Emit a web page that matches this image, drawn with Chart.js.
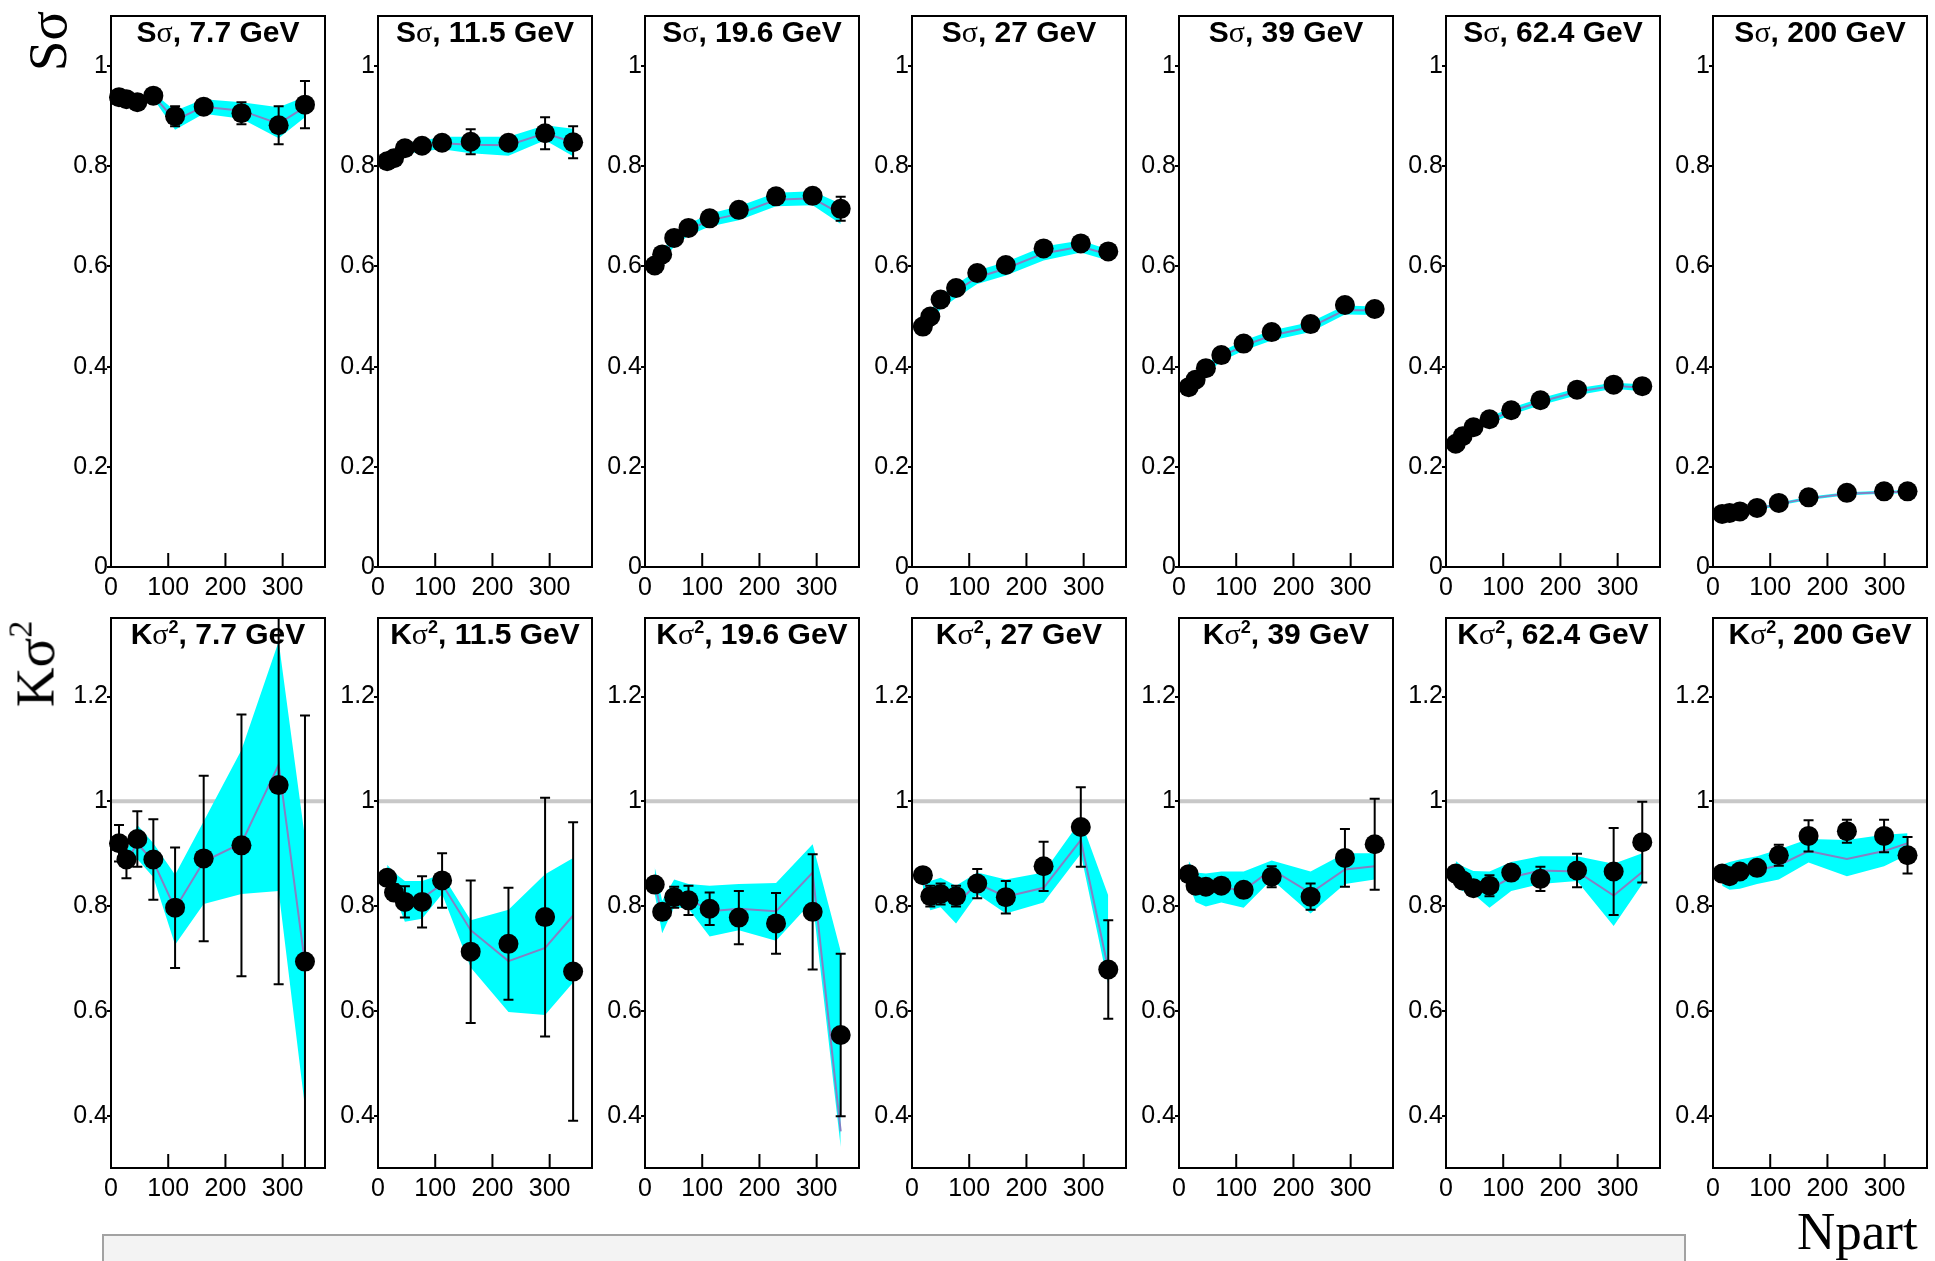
<!DOCTYPE html>
<html>
<head>
<meta charset="utf-8">
<script src="https://cdn.jsdelivr.net/npm/chart.js@4.4.1/dist/chart.umd.min.js"></script>
<style>
  html, body { margin: 0; padding: 0; background: #fff; }
  #page { position: relative; width: 1935px; height: 1261px; overflow: hidden; background: #fff; }
  .panel { position: absolute; }
  .ptitle { position: absolute; width: 214px; text-align: center; white-space: nowrap;
            font: bold 30px 'Liberation Sans', Arial, sans-serif; line-height: 30px; color: #000; }
  .ptitle .g { font-family: 'Liberation Serif', 'DejaVu Serif', serif; font-weight: normal; }
  .ptitle .sup { font-size: 18px; position: relative; top: -11px; }
  .ytitle { position: absolute; white-space: nowrap; line-height: 1; color: #000;
            font-family: 'Liberation Serif', 'DejaVu Serif', serif; font-size: 55px;
            transform: translate(-50%, -50%) rotate(-90deg); }
  .ytitle sup { font-size: 34px; vertical-align: 0; position: relative; top: -22px; }
  #npart { position: absolute; left: 1797px; top: 1205px; line-height: 1;
           font-family: 'Liberation Serif', 'DejaVu Serif', serif; font-size: 53px; color: #000; }
  #caption { position: absolute; left: 102px; top: 1234px; width: 1584px; height: 40px;
             background: #f3f3f3; border: 2px solid #a2a2a2; box-sizing: border-box; }
</style>
</head>
<body>
<div id="page"></div>
<script>
// collision energies (GeV), one column of panels each
const energies = ['7.7', '11.5', '19.6', '27', '39', '62.4', '200'];

// Npart of the nine centrality bins, per energy
const npart = [
  [14, 27, 46, 74, 112, 162, 228, 293, 339],
  [16, 28, 47, 77, 112, 162, 228, 292, 341],
  [17, 30, 51, 76, 113, 164, 229, 293, 342],
  [19, 32, 50, 77, 114, 164, 230, 295, 343],
  [17, 29, 47, 74, 113, 162, 230, 290, 342],
  [17, 29, 48, 76, 114, 165, 229, 293, 343],
  [16, 29, 47, 77, 115, 167, 234, 299, 340]
];

const xTicks = [0, 100, 200, 300];
const sTicks = [0, 0.2, 0.4, 0.6, 0.8, 1];
const kTicks = [0.4, 0.6, 0.8, 1, 1.2];

// S*sigma : data points and stat. errors
const sVal = [
  [0.938, 0.934, 0.928, 0.941, 0.900, 0.919, 0.906, 0.882, 0.923],
  [0.810, 0.816, 0.836, 0.841, 0.847, 0.849, 0.847, 0.866, 0.848],
  [0.602, 0.624, 0.657, 0.677, 0.696, 0.713, 0.740, 0.741, 0.715],
  [0.480, 0.500, 0.534, 0.557, 0.587, 0.603, 0.636, 0.646, 0.630],
  [0.359, 0.374, 0.397, 0.423, 0.446, 0.469, 0.485, 0.523, 0.515],
  [0.246, 0.261, 0.279, 0.295, 0.313, 0.333, 0.354, 0.364, 0.361],
  [0.106, 0.108, 0.111, 0.118, 0.128, 0.139, 0.148, 0.151, 0.151]
];
const sErr = [
  [0.005, 0.005, 0.005, 0.006, 0.020, 0.008, 0.022, 0.038, 0.047],
  [0.005, 0.005, 0.005, 0.006, 0.007, 0.025, 0.008, 0.032, 0.032],
  [0.004, 0.004, 0.004, 0.005, 0.005, 0.006, 0.007, 0.008, 0.024],
  [0.004, 0.004, 0.004, 0.004, 0.005, 0.005, 0.006, 0.007, 0.009],
  [0.003, 0.003, 0.003, 0.004, 0.004, 0.004, 0.005, 0.006, 0.007],
  [0.003, 0.003, 0.003, 0.003, 0.003, 0.004, 0.004, 0.005, 0.006],
  [0.002, 0.002, 0.002, 0.002, 0.003, 0.003, 0.003, 0.004, 0.004]
];
// S*sigma : band (low / high edge) and its central line
const sLo = [
  [0.932, 0.928, 0.922, 0.935, 0.873, 0.905, 0.895, 0.856, 0.898],
  [0.795, 0.803, 0.824, 0.830, 0.834, 0.826, 0.821, 0.852, 0.820],
  [0.585, 0.610, 0.640, 0.662, 0.680, 0.692, 0.720, 0.722, 0.685],
  [0.462, 0.485, 0.515, 0.537, 0.565, 0.582, 0.612, 0.628, 0.612],
  [0.347, 0.362, 0.385, 0.411, 0.432, 0.452, 0.469, 0.504, 0.503],
  [0.238, 0.253, 0.270, 0.286, 0.304, 0.323, 0.343, 0.356, 0.351],
  [0.102, 0.104, 0.107, 0.113, 0.123, 0.134, 0.143, 0.146, 0.147]
];
const sHi = [
  [0.944, 0.940, 0.934, 0.947, 0.911, 0.934, 0.928, 0.918, 0.939],
  [0.820, 0.826, 0.846, 0.851, 0.859, 0.859, 0.859, 0.882, 0.875],
  [0.610, 0.632, 0.662, 0.685, 0.705, 0.720, 0.747, 0.750, 0.725],
  [0.486, 0.510, 0.541, 0.564, 0.592, 0.609, 0.640, 0.652, 0.634],
  [0.365, 0.380, 0.403, 0.430, 0.452, 0.472, 0.489, 0.522, 0.520],
  [0.252, 0.267, 0.284, 0.300, 0.318, 0.337, 0.357, 0.368, 0.365],
  [0.108, 0.110, 0.113, 0.119, 0.129, 0.140, 0.149, 0.152, 0.153]
];
const sMid = [
  [0.938, 0.934, 0.928, 0.941, 0.892, 0.919, 0.911, 0.885, 0.918],
  [0.807, 0.815, 0.835, 0.840, 0.846, 0.843, 0.842, 0.866, 0.848],
  [0.598, 0.620, 0.652, 0.673, 0.692, 0.705, 0.733, 0.736, 0.705],
  [0.474, 0.497, 0.528, 0.551, 0.578, 0.596, 0.626, 0.640, 0.624],
  [0.356, 0.371, 0.394, 0.420, 0.442, 0.462, 0.479, 0.513, 0.512],
  [0.245, 0.260, 0.277, 0.293, 0.311, 0.330, 0.350, 0.362, 0.358],
  [0.105, 0.107, 0.110, 0.116, 0.126, 0.137, 0.146, 0.149, 0.150]
];

// K*sigma^2 : data points and stat. errors
const kVal = [
  [0.920, 0.889, 0.928, 0.889, 0.797, 0.891, 0.916, 1.031, 0.694],
  [0.854, 0.826, 0.808, 0.808, 0.849, 0.713, 0.728, 0.779, 0.675],
  [0.841, 0.789, 0.817, 0.811, 0.795, 0.778, 0.767, 0.789, 0.554],
  [0.859, 0.819, 0.823, 0.819, 0.843, 0.817, 0.876, 0.951, 0.679],
  [0.861, 0.839, 0.837, 0.839, 0.831, 0.856, 0.818, 0.892, 0.918],
  [0.862, 0.849, 0.834, 0.839, 0.864, 0.852, 0.868, 0.866, 0.922],
  [0.862, 0.857, 0.866, 0.873, 0.897, 0.934, 0.943, 0.934, 0.897]
];
const kErr = [
  [0.035, 0.036, 0.053, 0.077, 0.115, 0.158, 0.250, 0.380, 0.470],
  [0.010, 0.015, 0.030, 0.049, 0.052, 0.136, 0.107, 0.228, 0.285],
  [0.010, 0.015, 0.020, 0.028, 0.031, 0.051, 0.058, 0.110, 0.155],
  [0.010, 0.020, 0.020, 0.020, 0.028, 0.031, 0.047, 0.076, 0.094],
  [0.008, 0.010, 0.010, 0.012, 0.012, 0.020, 0.025, 0.055, 0.087],
  [0.006, 0.006, 0.010, 0.020, 0.010, 0.023, 0.032, 0.083, 0.077],
  [0.006, 0.006, 0.008, 0.010, 0.020, 0.030, 0.022, 0.031, 0.035]
];
// K*sigma^2 : band (low / high edge) and its central line
const kLo = [
  [0.900, 0.870, 0.890, 0.855, 0.726, 0.804, 0.823, 0.829, 0.416],
  [0.840, 0.823, 0.770, 0.776, 0.823, 0.683, 0.598, 0.592, 0.654],
  [0.823, 0.748, 0.798, 0.795, 0.742, 0.754, 0.734, 0.810, 0.340],
  [0.835, 0.792, 0.798, 0.767, 0.823, 0.786, 0.807, 0.900, 0.650],
  [0.842, 0.808, 0.799, 0.807, 0.797, 0.851, 0.786, 0.842, 0.851],
  [0.836, 0.829, 0.823, 0.797, 0.829, 0.842, 0.848, 0.762, 0.842],
  [0.839, 0.831, 0.833, 0.842, 0.851, 0.883, 0.857, 0.876, 0.898]
];
const kHi = [
  [0.935, 0.905, 0.955, 0.920, 0.860, 0.962, 1.098, 1.305, 0.930],
  [0.879, 0.864, 0.848, 0.848, 0.861, 0.773, 0.793, 0.861, 0.892],
  [0.874, 0.810, 0.851, 0.842, 0.839, 0.842, 0.844, 0.918, 0.714],
  [0.870, 0.848, 0.854, 0.839, 0.864, 0.851, 0.864, 0.964, 0.820],
  [0.886, 0.864, 0.862, 0.866, 0.866, 0.887, 0.866, 0.901, 0.901],
  [0.886, 0.876, 0.867, 0.866, 0.884, 0.895, 0.895, 0.881, 0.901],
  [0.879, 0.884, 0.889, 0.895, 0.908, 0.928, 0.926, 0.936, 0.939]
];
const kMid = [
  [0.915, 0.885, 0.920, 0.885, 0.795, 0.885, 0.920, 1.070, 0.690],
  [0.858, 0.838, 0.815, 0.815, 0.842, 0.754, 0.695, 0.720, 0.782],
  [0.845, 0.780, 0.820, 0.815, 0.790, 0.795, 0.790, 0.864, 0.370],
  [0.852, 0.820, 0.826, 0.803, 0.843, 0.818, 0.835, 0.926, 0.680],
  [0.862, 0.836, 0.830, 0.836, 0.830, 0.870, 0.825, 0.870, 0.876],
  [0.862, 0.852, 0.840, 0.832, 0.855, 0.868, 0.866, 0.820, 0.865],
  [0.860, 0.858, 0.862, 0.868, 0.878, 0.905, 0.890, 0.905, 0.920]
];

const page = document.getElementById('page');
const FONT = "'Liberation Sans', Arial, sans-serif";
const plotLeft0 = 111, plotPitch = 267, plotW = 214;
const plotTop = [7, 609], plotH = [560, 559];
const padL = 58, padR = 6, padT = 5, padB = 40;

const fmt = function (v) {
    return String(parseFloat(v.toFixed(1)));
};

const pts = function (xs, ys) {
    return xs.map((x, i) => ({ x: x, y: ys[i] }));
};

// error bars, unity line, frame and inner x ticks
const overlay = function (xs, vals, errs, unity) {
    return {
        id: 'overlay',
        beforeDatasetsDraw(chart) {
            if (unity === null) {
                return;
            }
            const { ctx, chartArea: a, scales: { y } } = chart;
            const py = y.getPixelForValue(unity);
            ctx.save();
            ctx.strokeStyle = '#c8c8c8';
            ctx.lineWidth = 4;
            ctx.beginPath();
            ctx.moveTo(a.left, py);
            ctx.lineTo(a.right, py);
            ctx.stroke();
            ctx.restore();
        },
        afterDatasetsDraw(chart) {
            const { ctx, chartArea: a, scales: { x, y } } = chart;
            ctx.save();
            ctx.beginPath();
            ctx.rect(a.left, a.top, a.right - a.left, a.bottom - a.top);
            ctx.clip();
            ctx.strokeStyle = '#000';
            ctx.lineWidth = 2;
            for (let i = 0; i < xs.length; i++) {
                const px = x.getPixelForValue(xs[i]);
                const top = y.getPixelForValue(vals[i] + errs[i]);
                const bot = y.getPixelForValue(vals[i] - errs[i]);
                ctx.beginPath();
                ctx.moveTo(px, top);
                ctx.lineTo(px, bot);
                ctx.moveTo(px - 5, top);
                ctx.lineTo(px + 5, top);
                ctx.moveTo(px - 5, bot);
                ctx.lineTo(px + 5, bot);
                ctx.stroke();
            }
            ctx.restore();
        },
        afterDraw(chart) {
            const { ctx, chartArea: a, scales: { x } } = chart;
            ctx.save();
            ctx.strokeStyle = '#000';
            ctx.lineWidth = 2;
            ctx.strokeRect(a.left, a.top, a.right - a.left, a.bottom - a.top);
            ctx.beginPath();
            xTicks.forEach(function (t) {
                if (t === 0) {
                    return;
                }
                const px = x.getPixelForValue(t);
                ctx.moveTo(px, a.bottom);
                ctx.lineTo(px, a.bottom - 14);
            });
            ctx.stroke();
            ctx.restore();
        }
    };
};

const makePanel = function (row, col) {
    const isS = row === 0;
    const xs = npart[col];
    const vals = isS ? sVal[col] : kVal[col];
    const errs = isS ? sErr[col] : kErr[col];
    const lo = isS ? sLo[col] : kLo[col];
    const hi = isS ? sHi[col] : kHi[col];
    const mid = isS ? sMid[col] : kMid[col];
    const yTicks = isS ? sTicks : kTicks;

    const left = plotLeft0 + col * plotPitch;
    const w = plotW + padL + padR;
    const h = plotH[row] + padT + padB;

    const box = document.createElement('div');
    box.className = 'panel';
    box.style.left = (left - padL) + 'px';
    box.style.top = (plotTop[row] - padT) + 'px';
    box.style.width = w + 'px';
    box.style.height = h + 'px';
    const canvas = document.createElement('canvas');
    canvas.width = w;
    canvas.height = h;
    canvas.style.width = w + 'px';
    canvas.style.height = h + 'px';
    box.appendChild(canvas);
    page.appendChild(box);

    // lower "order" is painted on top: points > centre line > band
    new Chart(canvas, {
        type: 'line',
        data: {
            datasets: [
                { data: pts(xs, hi), order: 3, fill: '+1', backgroundColor: '#00ffff', borderWidth: 0, pointRadius: 0 },
                { data: pts(xs, lo), order: 4, fill: false, borderWidth: 0, pointRadius: 0 },
                { data: pts(xs, mid), order: 2, fill: false, borderColor: '#8480c4', borderWidth: 2, pointRadius: 0 },
                {
                    data: pts(xs, vals), order: 1, showLine: false, clip: false,
                    pointRadius: 10, pointBackgroundColor: '#000', pointBorderWidth: 0
                }
            ]
        },
        options: {
            responsive: false,
            animation: false,
            devicePixelRatio: 1,
            events: [],
            layout: { padding: { top: padT, right: padR, left: 0, bottom: 0 }, autoPadding: false },
            plugins: { legend: { display: false }, tooltip: { enabled: false } },
            scales: {
                x: {
                    type: 'linear',
                    min: 0,
                    max: 374,
                    afterFit: function (s) { s.height = padB; },
                    afterBuildTicks: function (s) { s.ticks = xTicks.map(v => ({ value: v })); },
                    grid: { display: false, drawTicks: false },
                    border: { display: false },
                    ticks: { color: '#000', font: { family: FONT, size: 25 }, padding: 6, maxRotation: 0, autoSkip: false }
                },
                y: {
                    type: 'linear',
                    min: isS ? 0 : 0.3,
                    max: isS ? 1.1 : 1.35,
                    afterFit: function (s) { s.width = padL; },
                    afterBuildTicks: function (s) { s.ticks = yTicks.map(v => ({ value: v })); },
                    grid: { drawOnChartArea: false, drawTicks: true, tickLength: 4, color: '#000', lineWidth: 2 },
                    border: { display: false },
                    ticks: { color: '#000', font: { family: FONT, size: 25 }, padding: -1, autoSkip: false, callback: fmt }
                }
            }
        },
        plugins: [overlay(xs, vals, errs, isS ? null : 1)]
    });

    const t = document.createElement('div');
    t.className = 'ptitle';
    t.style.left = left + 'px';
    t.style.top = (plotTop[row] + 10) + 'px';
    t.innerHTML = isS
        ? 'S<span class="g">σ</span>, ' + energies[col] + ' GeV'
        : 'K<span class="g">σ</span><span class="sup">2</span>, ' + energies[col] + ' GeV';
    page.appendChild(t);
};

for (let r = 0; r < 2; r++) {
    for (let c = 0; c < energies.length; c++) {
        makePanel(r, c);
    }
}

const ys = document.createElement('div');
ys.className = 'ytitle';
ys.style.left = '47px';
ys.style.top = '41px';
ys.innerHTML = 'Sσ';
page.appendChild(ys);

const yk = document.createElement('div');
yk.className = 'ytitle';
yk.style.left = '35px';
yk.style.top = '664px';
yk.innerHTML = 'Kσ<sup>2</sup>';
page.appendChild(yk);

const np = document.createElement('div');
np.id = 'npart';
np.textContent = 'Npart';
page.appendChild(np);

const cap = document.createElement('div');
cap.id = 'caption';
page.appendChild(cap);
</script>
</body>
</html>
